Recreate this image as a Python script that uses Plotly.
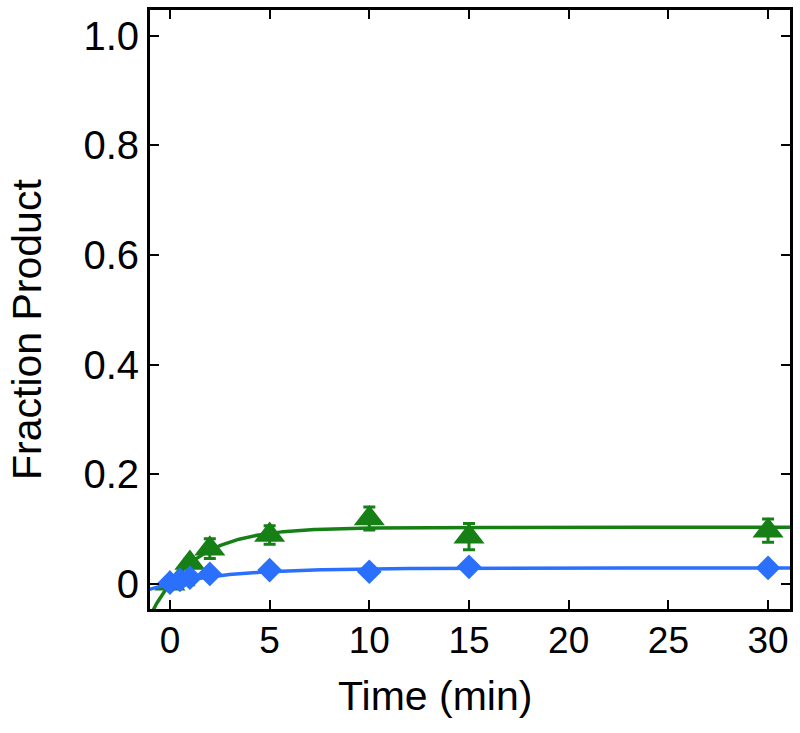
import numpy as np
import plotly.graph_objects as go

# ---- data ----
time_min = [0, 0.5, 1, 2, 5, 10, 15, 30]
green_vals = [0.0, 0.008, 0.038, 0.064, 0.089, 0.119, 0.086, 0.097]
green_err = [0.003, 0.004, 0.008, 0.018, 0.017, 0.021, 0.024, 0.021]
blue_vals = [0.002, 0.007, 0.011, 0.018, 0.025, 0.022, 0.031, 0.029]
blue_err = [0.003, 0.003, 0.003, 0.004, 0.004, 0.004, 0.004, 0.004]

# single-exponential fit parameters (plateau, rate per min)
green_fit_A, green_fit_k = 0.103, 0.45
blue_fit_A, blue_fit_k = 0.029, 0.29

x_ticks = [0, 5, 10, 15, 20, 25, 30]
y_ticks = [0, 0.2, 0.4, 0.6, 0.8, 1.0]
y_tick_labels = ["0", "0.2", "0.4", "0.6", "0.8", "1.0"]
x_title = "Time (min)"
y_title = "Fraction Product"

GREEN = "#167f16"
BLUE = "#2a70fc"
FONT = "Liberation Sans, Arial, sans-serif"

t_fit = np.linspace(-1.2, 31.5, 400)
green_fit = green_fit_A * (1 - np.exp(-green_fit_k * t_fit))
blue_fit = blue_fit_A * (1 - np.exp(-blue_fit_k * t_fit))

fig = go.Figure()
fig.add_trace(go.Scatter(x=t_fit, y=green_fit, mode="lines",
                         line=dict(color=GREEN, width=3.5), hoverinfo="skip"))
fig.add_trace(go.Scatter(x=time_min, y=green_vals, mode="markers",
                         marker=dict(symbol="triangle-up", size=27, color=GREEN),
                         error_y=dict(type="data", array=green_err, color=GREEN,
                                      thickness=3, width=6),
                         cliponaxis=False))
fig.add_trace(go.Scatter(x=t_fit, y=blue_fit, mode="lines",
                         line=dict(color=BLUE, width=3.5), hoverinfo="skip"))
fig.add_trace(go.Scatter(x=time_min, y=blue_vals, mode="markers",
                         marker=dict(symbol="diamond", size=19, color=BLUE),
                         error_y=dict(type="data", array=blue_err, color=BLUE,
                                      thickness=2, width=5),
                         cliponaxis=False))

axis_common = dict(showline=True, linecolor="black", linewidth=3, mirror="ticks",
                   ticks="inside", ticklen=9, tickwidth=2, tickcolor="black",
                   showgrid=False, zeroline=False, automargin=False)

fig.update_layout(
    width=800, height=733,
    margin=dict(l=150, r=10, t=10, b=124),
    paper_bgcolor="white", plot_bgcolor="white",
    showlegend=False,
    font=dict(family=FONT, color="black"),
    xaxis=dict(range=[-1.0, 31.1], tickvals=x_ticks,
               tickfont=dict(size=37, family=FONT), ticklabelstandoff=-3,
               **axis_common),
    yaxis=dict(range=[-0.046, 1.047], tickvals=y_ticks, ticktext=y_tick_labels,
               tickfont=dict(size=40, family=FONT),
               **axis_common),
    annotations=[
        dict(text=x_title, xref="paper", yref="paper", x=0.445, y=-0.145,
             xanchor="center", yanchor="middle", showarrow=False,
             font=dict(size=41, family=FONT, color="black")),
        dict(text=y_title, xref="paper", yref="paper", x=-0.192, y=0.466,
             xanchor="center", yanchor="middle", showarrow=False, textangle=-90,
             font=dict(size=41, family=FONT, color="black")),
    ],
)

fig.write_html("out.html", config={"displayModeBar": False},
               post_script="document.body.style.margin='0';document.body.style.overflow='hidden';")
